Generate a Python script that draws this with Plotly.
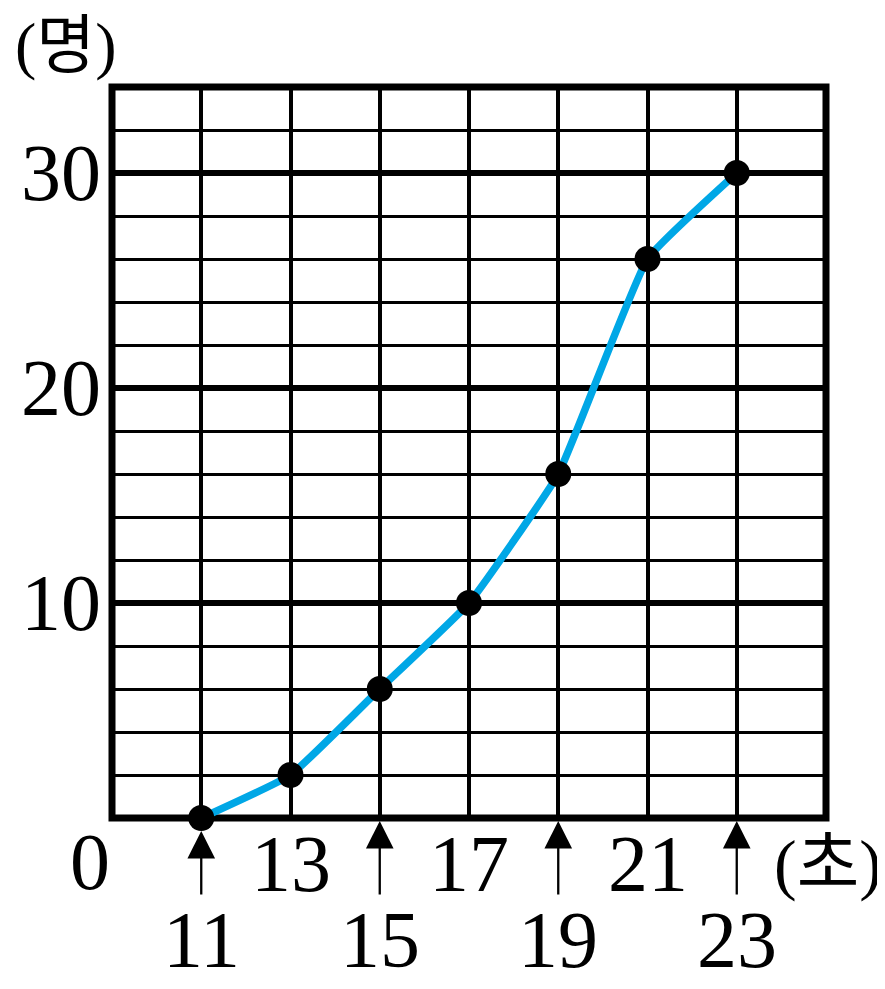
import plotly.graph_objects as go

seconds = [11, 13, 15, 17, 19, 21, 23]
people = [0, 2, 6, 10, 16, 26, 30]
upper_ticks = [13, 17, 21]
lower_ticks = [11, 15, 19, 23]
y_ticks = [10, 20, 30]
x_min, x_max = 9, 25
y_min, y_max = 0, 34

FONT = "Liberation Serif, Noto Sans CJK KR, serif"
BLUE = "#00A7E6"
NUM = 80
KOR = 68

fig = go.Figure()
fig.add_trace(go.Scatter(
    x=seconds, y=people, mode="lines+markers",
    line=dict(color=BLUE, width=7.5, shape="spline", smoothing=0.35),
    marker=dict(color="black", size=26),
    cliponaxis=False, hoverinfo="skip", showlegend=False,
))

# thick horizontal lines at 10, 20, 30
for v in y_ticks:
    fig.add_shape(type="line", xref="paper", yref="y", x0=0, x1=1, y0=v, y1=v,
                  line=dict(color="black", width=6), layer="between")
# frame
fig.add_shape(type="rect", xref="paper", yref="paper", x0=0, x1=1, y0=0, y1=1,
              line=dict(color="black", width=7), layer="between")

# upper x labels
for t in upper_ticks:
    fig.add_annotation(x=t, y=0, xref="x", yref="y", text=str(t), showarrow=False,
                       yshift=-46, font=dict(family=FONT, size=NUM, color="black"))
# lower x labels with arrows
for t in lower_ticks:
    fig.add_annotation(x=t, y=0, xref="x", yref="y", text=str(t),
                       showarrow=True, ax=0, ay=122, arrowhead=2, arrowsize=2.4,
                       arrowwidth=2.3, arrowcolor="black",
                       standoff=13 if t == seconds[0] else 3,
                       font=dict(family=FONT, size=NUM, color="black"))
# y labels
for v in y_ticks:
    fig.add_annotation(x=x_min, y=v, xref="x", yref="y", text=str(v), showarrow=False,
                       xanchor="right", xshift=-9, font=dict(family=FONT, size=NUM, color="black"))

fig.add_annotation(x=x_min, y=0, xref="x", yref="y", text="0", showarrow=False,
                   xshift=-22, yshift=-44, font=dict(family=FONT, size=NUM, color="black"))
fig.add_annotation(x=x_max, y=0, xref="x", yref="y", text="(초)", showarrow=False,
                   xshift=2, yshift=-46, font=dict(family=FONT, size=KOR, color="black"))
fig.add_annotation(x=x_min, y=y_max, xref="x", yref="y", text="(명)", showarrow=False,
                   xshift=-46, yshift=42,
                   font=dict(family=FONT, size=64, color="black"))

fig.update_layout(
    width=885, height=989,
    margin=dict(l=104, r=67, t=79, b=179),
    paper_bgcolor="white", plot_bgcolor="white",
    xaxis=dict(range=[x_min, x_max], tick0=x_min, dtick=2,
               showgrid=True, gridcolor="black", gridwidth=4,
               showline=False, showticklabels=False, ticks="",
               zeroline=False, fixedrange=True, automargin=False),
    yaxis=dict(range=[y_min, y_max], tick0=0, dtick=2,
               showgrid=True, gridcolor="black", gridwidth=3,
               showline=False, showticklabels=False, ticks="",
               zeroline=False, fixedrange=True, automargin=False),
)

fig.write_html("out.html")
